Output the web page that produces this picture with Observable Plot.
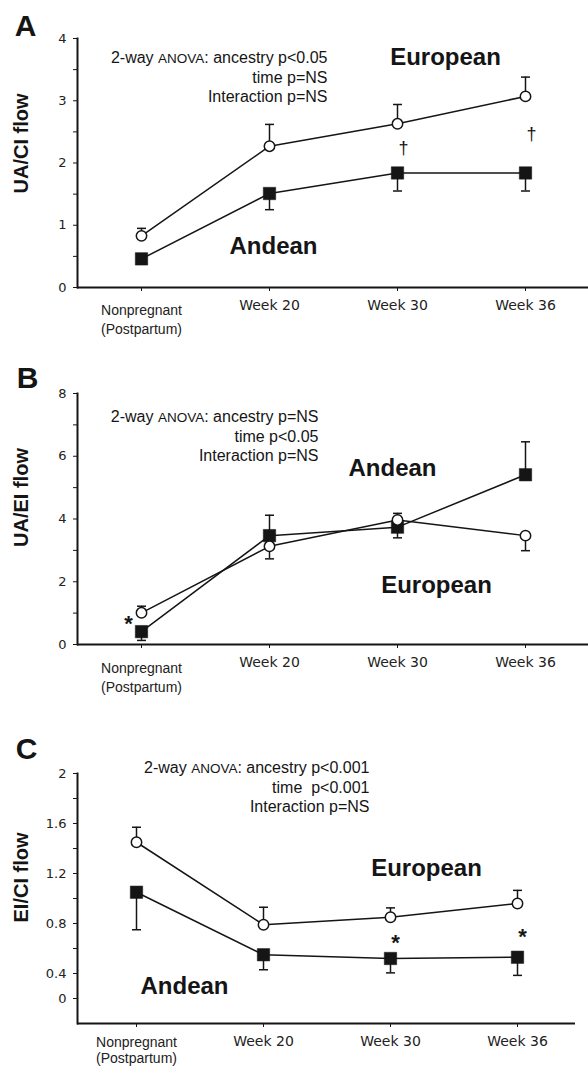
<!DOCTYPE html>
<html><head><meta charset="utf-8">
<script src="https://cdn.jsdelivr.net/npm/d3@7"></script>
<script src="https://cdn.jsdelivr.net/npm/@observablehq/plot@0.6"></script>
<style>
html,body{margin:0;padding:0;background:#fff;}
svg{display:block;}
</style>
</head><body><div id="chart"></div>
<script>
// ---- data ----
const categories = ["Nonpregnant", "Week 20", "Week 30", "Week 36"];
const npLabel = ["Nonpregnant", "(Postpartum)"];

// Panel A: UA/CI flow
const aEuropean = [0.83, 2.27, 2.63, 3.07];
const aEuropeanWhisker = [0.95, 2.62, 2.94, 3.38];
const aAndean = [0.46, 1.51, 1.84, 1.84];
const aAndeanWhisker = [0.46, 1.25, 1.55, 1.55];
const aTicks = [0, 1, 2, 3, 4];
const aMinorTicks = [0.5, 1.5, 2.5, 3.5];
const aStats = ["2-way ANOVA: ancestry p<0.05", "time p=NS", "Interaction p=NS"];

// Panel B: UA/EI flow
const bEuropean = [1.01, 3.13, 3.97, 3.47];
const bEuropeanWhisker = [1.22, 2.73, 4.18, 2.99];
const bAndean = [0.41, 3.47, 3.74, 5.41];
const bAndeanWhisker = [0.13, 4.12, 3.40, 6.46];
const bTicks = [0, 2, 4, 6, 8];
const bMinorTicks = [1, 3, 5, 7];
const bStats = ["2-way ANOVA: ancestry p=NS", "time p<0.05", "Interaction p=NS"];

// Panel C: EI/CI flow
const cEuropean = [1.45, 0.79, 0.85, 0.96];
const cEuropeanWhisker = [1.57, 0.93, 0.925, 1.065];
const cAndean = [1.05, 0.55, 0.52, 0.53];
const cAndeanWhisker = [0.75, 0.43, 0.405, 0.385];
const cTicks = [2, 1.6, 1.2, 0.8, 0.4, 0.2];
const cTickLabels = ["2", "1.6", "1.2", "0.8", "0.4", "0"];
const cMinorTicks = [1.8, 1.4, 1.0, 0.6];
const cStats = ["2-way ANOVA: ancestry p<0.001", "time  p<0.001", "Interaction p=NS"];

// ---- helpers ----
const rows = (vals, whisk) => categories.map((c, i) => ({cat: c, value: vals[i], whisker: whisk[i]}));
const capSymbol = {draw(ctx, size) { const w = Math.sqrt(size / Math.PI); ctx.moveTo(-w, 0); ctx.lineTo(w, 0); }};
const INK = "#151515";
const centered = {textAnchor: "middle", lineAnchor: "middle"};

function panel(o) {
  const eu = rows(o.euro, o.euroW);
  const an = rows(o.andean, o.andeanW);
  const fmt = o.tickFormat || (d => String(d));
  const marks = [
    Plot.ruleY([o.domain[0]], {stroke: INK, strokeWidth: 2}),
    Plot.frame({anchor: "left", stroke: INK, strokeWidth: 2}),
    Plot.axisY(o.ticks, {tickSize: 4, tickFormat: () => "", stroke: INK, label: null}),
    Plot.text(o.ticks, {y: d => d, text: fmt, frameAnchor: "left", dx: -11, textAnchor: "end",
      fontFamily: "DejaVu Sans", fontSize: 13, fill: "#222"}),
    Plot.axisY(o.minor, {tickSize: 4, tickFormat: () => "", stroke: INK, label: null}),
    Plot.axisX({tickSize: 4, tickFormat: () => "", stroke: INK, label: null}),
    Plot.text(categories.slice(1), {x: d => d, frameAnchor: "bottom", lineAnchor: "top", dy: 13,
      fontFamily: "DejaVu Sans", fontSize: 14, fill: "#222"}),
    Plot.text([categories[0]], {x: d => d, text: () => npLabel.join("\n"), frameAnchor: "bottom", lineAnchor: "top",
      dy: o.npDy, lineHeight: o.npLH, fontFamily: "Liberation Sans", fontSize: 14, fill: "#222"}),
    // error bars
    Plot.ruleX(an, {x: "cat", y1: "value", y2: "whisker", stroke: INK, strokeWidth: 1.5}),
    Plot.dot(an, {x: "cat", y: "whisker", symbol: capSymbol, r: 4.5, stroke: INK, strokeWidth: 1.5, fill: "none"}),
    Plot.ruleX(eu, {x: "cat", y1: "value", y2: "whisker", stroke: INK, strokeWidth: 1.5}),
    Plot.dot(eu, {x: "cat", y: "whisker", symbol: capSymbol, r: 4.5, stroke: INK, strokeWidth: 1.5, fill: "none"}),
    // lines
    Plot.line(an, {x: "cat", y: "value", stroke: INK, strokeWidth: 1.5}),
    Plot.line(eu, {x: "cat", y: "value", stroke: INK, strokeWidth: 1.5}),
    // markers
    Plot.dot(an, {x: "cat", y: "value", symbol: "square", r: 7, fill: INK, stroke: INK, strokeWidth: 0.5}),
    Plot.dot(eu, {x: "cat", y: "value", symbol: "circle", r: 5.2, fill: "white", stroke: INK, strokeWidth: 1.5}),
    // stats annotation
    Plot.text([o.stats.join("\n")], {frameAnchor: "top-left", dx: o.statsX, dy: o.statsY, textAnchor: "end",
      lineAnchor: "middle", lineHeight: 1.2, fontFamily: "Liberation Sans", fontSize: 16, fill: INK}),
    // group labels
    Plot.text(["European"], {...centered, frameAnchor: "top-left", dx: o.euLabel[0], dy: o.euLabel[1], fontWeight: "bold",
      fontFamily: "Liberation Sans", fontSize: 24, fill: INK}),
    Plot.text(["Andean"], {...centered, frameAnchor: "top-left", dx: o.anLabel[0], dy: o.anLabel[1], fontWeight: "bold",
      fontFamily: "Liberation Sans", fontSize: 24, fill: INK}),
    // panel letter
    Plot.text([o.letter], {...centered, frameAnchor: "top-left", dx: o.letterPos[0], dy: o.letterPos[1], fontWeight: "bold",
      fontFamily: "Liberation Sans", fontSize: 30, fill: INK}),
    // y label
    Plot.text([o.ylabel], {...centered, frameAnchor: "top-left", dx: -56, dy: o.ylabelY, rotate: -90, fontWeight: "bold",
      fontFamily: "Liberation Sans", fontSize: 20, fill: INK}),
    ...(o.extra || [])
  ];
  const svg = Plot.plot({
    width: 588, height: o.height,
    marginTop: o.mt, marginBottom: o.mb, marginLeft: 77, marginRight: o.mr,
    style: {fontFamily: "DejaVu Sans", fontSize: "13px", color: INK, background: "white"},
    x: {type: "point", domain: categories, padding: o.pad},
    y: {domain: o.domain},
    marks
  });
  // smaller "ANOVA"
  d3.select(svg).selectAll("tspan, text").each(function() {
    if (this.childElementCount === 0 && this.textContent.startsWith("2-way ANOVA:")) {
      const rest = this.textContent.slice("2-way ANOVA".length);
      const sel = d3.select(this);
      sel.text("");
      sel.append("tspan").text("2-way ");
      sel.append("tspan").attr("font-size", "13.5px").text("ANOVA");
      sel.append("tspan").text(rest);
    }
  });
  return svg;
}

const root = document.getElementById("chart");

root.appendChild(panel({
  letter: "A", letterPos: [-52, -12], ylabel: "UA/CI flow", ylabelY: 105,
  height: 345, mt: 38, mb: 58, mr: 0, pad: 0.49, domain: [0, 4],
  ticks: aTicks, minor: aMinorTicks, npDy: 14, npLH: 1.35,
  euro: aEuropean, euroW: aEuropeanWhisker, andean: aAndean, andeanW: aAndeanWhisker,
  stats: aStats, statsX: 250, statsY: 38,
  euLabel: [368, 19], anLabel: [196, 208],
  extra: [
    Plot.text([{cat: "Week 30", v: 2.23}, {cat: "Week 36", v: 2.47}], {x: "cat", y: "v", text: () => "\u2020", dx: 6,
      fontFamily: "Liberation Sans", fontSize: 18, fill: INK})
  ]
}));

root.appendChild(panel({
  letter: "B", letterPos: [-50, -15], ylabel: "UA/EI flow", ylabelY: 104,
  height: 360, mt: 48, mb: 61, mr: 0, pad: 0.49, domain: [0, 8],
  ticks: bTicks, minor: bMinorTicks, npDy: 15, npLH: 1.35,
  euro: bEuropean, euroW: bEuropeanWhisker, andean: bAndean, andeanW: bAndeanWhisker,
  stats: bStats, statsX: 241, statsY: 42,
  euLabel: [359, 192], anLabel: [315, 75],
  extra: [
    Plot.text([{cat: "Nonpregnant", v: 0.67}], {x: "cat", y: "v", text: () => "*", dx: -13,
      fontFamily: "Liberation Sans", fontWeight: "bold", fontSize: 22, fill: INK})
  ]
}));

root.appendChild(panel({
  letter: "C", letterPos: [-51, -24], ylabel: "EI/CI flow", ylabelY: 104,
  height: 363, mt: 68, mb: 45, mr: 13, pad: 0.46, domain: [0, 2],
  ticks: cTicks, minor: cMinorTicks, tickFormat: d => cTickLabels[cTicks.indexOf(d)], npDy: 12, npLH: 1.15,
  euro: cEuropean, euroW: cEuropeanWhisker, andean: cAndean, andeanW: cAndeanWhisker,
  stats: cStats, statsX: 292, statsY: 13,
  euLabel: [349, 95], anLabel: [107, 213],
  extra: [
    Plot.text([{cat: "Week 30", v: 0.645}, {cat: "Week 36", v: 0.695}], {x: "cat", y: "v", text: () => "*", dx: 5,
      fontFamily: "Liberation Sans", fontWeight: "bold", fontSize: 22, fill: INK})
  ]
}));
</script>
</body></html>
